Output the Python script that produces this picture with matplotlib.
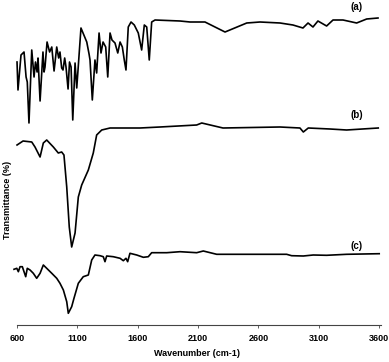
import matplotlib
matplotlib.use('Agg')
import matplotlib.pyplot as plt

# spectrum (a)
wn_a = [600, 608, 633, 658, 675, 685, 699, 722, 741, 753, 766, 774, 791, 815, 824, 832, 849,
        870, 888, 907, 929, 945, 956, 970, 981, 995, 1006, 1023, 1035, 1048, 1062, 1081, 1095,
        1130, 1178, 1197, 1205, 1224, 1246, 1260, 1280, 1296, 1313, 1335, 1352, 1371, 1387,
        1412, 1435, 1454, 1473, 1489, 1503, 1522, 1545, 1572, 1605, 1633, 1655, 1675, 1696,
        1716, 1744, 1951, 2034, 2158, 2324, 2504, 2614, 2780, 2887, 2970, 3012, 3053, 3094,
        3166, 3219, 3302, 3415, 3498, 3592]
t_a = [268, 240, 275, 278, 253, 248, 207, 280, 253, 268, 258, 272, 229, 278, 258, 263, 288,
       278, 283, 259, 283, 272, 278, 262, 260, 272, 263, 241, 268, 263, 210, 267, 242,
       302, 288, 276, 270, 230, 270, 257, 297, 277, 288, 283, 253, 297, 290,
       287, 277, 288, 283, 270, 260, 303, 308, 305, 297, 280, 305, 303, 270,
       308, 310, 309, 308, 308, 298, 307, 308, 307, 305, 302, 307, 303, 309,
       304, 310, 310, 307, 311, 312]

# spectrum (b)
wn_b = [600, 650, 722, 749, 791, 818, 846, 901, 942, 970, 989, 1012, 1033, 1053, 1081, 1108,
        1136, 1191, 1232, 1260, 1302, 1371, 1454, 1619, 1785, 2089, 2131, 2307, 2779, 2945,
        2973, 3014, 3194, 3332, 3594]
t_b = [185, 189, 188, 183, 173, 187, 190, 183, 177, 178, 175, 143, 103, 83, 97, 133,
       145, 160, 177, 195, 200, 202, 202, 202, 203, 205, 207, 202, 203, 202,
       198, 202, 201, 200, 202]

# spectrum (c)
wn_c = [575, 598, 611, 625, 644, 658, 672, 685, 708, 735, 763, 791, 818, 846, 888, 929,
        956, 984, 1012, 1025, 1039, 1053, 1072, 1108, 1149, 1191, 1219, 1246, 1288, 1315,
        1329, 1343, 1398, 1454, 1481, 1503, 1517, 1536, 1592, 1647, 1688, 1716, 1841, 1951,
        2089, 2144, 2255, 2365, 2835, 2876, 2973, 3055, 3166, 3332, 3602]
t_c = [60.7, 61.7, 58.3, 63.3, 63.3, 58.3, 53.3, 61.7, 60, 56.7, 51.7, 56.7, 65, 61.7, 56.7, 51.7,
       46.7, 40, 28.3, 16.7, 20, 23.3, 31.7, 46.7, 53.3, 55, 70, 75, 74.3, 73.3,
       68.3, 74, 73.3, 71.7, 69.3, 71.7, 68.3, 76.7, 75, 72.7, 73.3, 77.3, 77.3, 78.3,
       77.3, 79, 75.7, 75.7, 75.7, 74.3, 74, 75, 74.7, 75.7, 76.3]

labels = ['(a)', '(b)', '(c)']
label_pos = [(3415, 323), (3415, 215), (3415, 84)]
xticks = [600, 1100, 1600, 2100, 2600, 3100, 3600]

plt.rcParams['font.family'] = ['Liberation Sans', 'DejaVu Sans']

fig = plt.figure(figsize=(3.89, 3.62), dpi=100)
ax = fig.add_axes([12.2 / 389, 37 / 362, 371.6 / 389, 325 / 362])

for wn, t in [(wn_a, t_a), (wn_b, t_b), (wn_c, t_c)]:
    ax.plot(wn, t, color='black', lw=1.2)

for lab, (x, y) in zip(labels, label_pos):
    ax.text(x, y, lab, fontsize=7, fontweight='bold', ha='center', va='center')

ax.set_xlim(560, 3640)
ax.set_ylim(5, 330)
for s in ['top', 'right', 'left']:
    ax.spines[s].set_visible(False)
ax.spines['bottom'].set_bounds(600, 3620)
ax.spines['bottom'].set_linewidth(0.8)
ax.spines['bottom'].set_color('#444444')
ax.set_yticks([])
ax.set_xticks(xticks)
ax.set_xticklabels([str(x) for x in xticks], fontsize=6.5, fontweight='bold')
ax.tick_params(axis='x', length=2.5, width=0.6, pad=4, color='#444444')

fig.text(197 / 389, 1 - 354 / 362, 'Wavenumber (cm-1)', fontsize=6.5, fontweight='bold',
         ha='center', va='center')
fig.text(8 / 389, 1 - 200 / 362, 'Transmittance (%)', fontsize=6.5, fontweight='bold',
         ha='center', va='center', rotation=90)

fig.savefig('out.png', dpi=100)
